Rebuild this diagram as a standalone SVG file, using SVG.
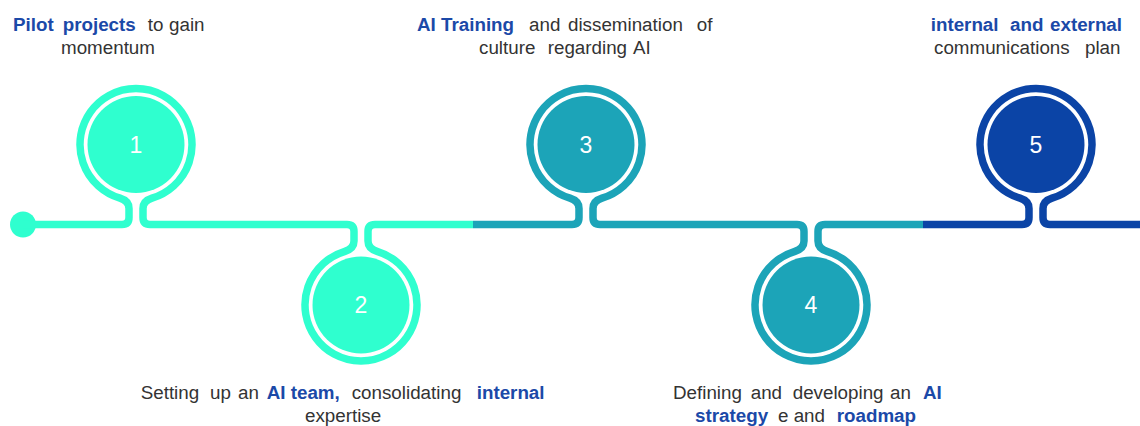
<svg xmlns="http://www.w3.org/2000/svg" width="1140" height="426" viewBox="0 0 1140 426">
<style>
.t{font-family:"Liberation Sans",Arial,sans-serif;font-size:18.8px;fill:#333333}
.b{font-weight:bold;fill:#1B49A8}
.n{font-family:"Liberation Sans",Arial,sans-serif;font-size:23px;fill:#ffffff;text-anchor:middle}
.ln{fill:none;stroke-width:7.5;stroke-linejoin:round}
.aq{fill:#2FFFCF}
.te{fill:#1CA4B8}
.bl{fill:#0B44A6}
</style>
<rect width="1140" height="426" fill="#ffffff"/>
<g id="connectors">
<circle cx="23" cy="224.5" r="13" class="aq"/>
<path class="ln" stroke="#2FFFCF" d="M23,224.5 H122 Q129,224.5 129,217.5 V208.5 Q129,201 120,198.2 A56,56 0 1 1 152,198.2 Q143,201 143,208.5 V217.5 Q143,224.5 150,224.5 H347 Q354,224.5 354,231.5 V241 Q354,248.5 345,251.3 A56,56 0 1 0 377,251.3 Q368,248.5 368,241 V231.5 Q368,224.5 375,224.5 H473"/>
<path class="ln" stroke="#1CA4B8" d="M473,224.5 H572 Q579,224.5 579,217.5 V208.5 Q579,201 570,198.2 A56,56 0 1 1 602,198.2 Q593,201 593,208.5 V217.5 Q593,224.5 600,224.5 H797 Q804,224.5 804,231.5 V241 Q804,248.5 795,251.3 A56,56 0 1 0 827,251.3 Q818,248.5 818,241 V231.5 Q818,224.5 825,224.5 H923"/>
<path class="ln" stroke="#0B44A6" d="M923,224.5 H1022 Q1029,224.5 1029,217.5 V208.5 Q1029,201 1020,198.2 A56,56 0 1 1 1052,198.2 Q1043,201 1043,208.5 V217.5 Q1043,224.5 1050,224.5 H1140"/>
</g>
<g id="node1">
<circle cx="136" cy="144.5" r="48.5" class="aq"/>
<text class="n" x="136" y="153">1</text>
<text class="t" y="30.5"><tspan class="b" x="13">Pilot</tspan><tspan class="b" x="62.7">projects</tspan><tspan x="147.7">to</tspan><tspan x="169">gain</tspan></text>
<text class="t" y="53.5"><tspan x="61">momentum</tspan></text>
</g>
<g id="node2">
<circle cx="361" cy="305" r="48.5" class="aq"/>
<text class="n" x="361" y="313.3">2</text>
<text class="t" y="399"><tspan x="140.7">Setting</tspan><tspan x="210">up</tspan><tspan x="238">an</tspan><tspan class="b" x="266.7">AI team,</tspan><tspan x="351.7">consolidating</tspan><tspan class="b" x="476.7">internal</tspan></text>
<text class="t" y="422"><tspan x="305">expertise</tspan></text>
</g>
<g id="node3">
<circle cx="586" cy="144.5" r="48.5" class="te"/>
<text class="n" x="586" y="153">3</text>
<text class="t" y="30.5"><tspan class="b" x="417">AI Training</tspan><tspan x="529">and</tspan><tspan x="568">dissemination</tspan><tspan x="696.7">of</tspan></text>
<text class="t" y="53.5"><tspan x="479">culture</tspan><tspan x="547.7">regarding</tspan><tspan x="633">AI</tspan></text>
</g>
<g id="node4">
<circle cx="811" cy="305" r="48.5" class="te"/>
<text class="n" x="811" y="313.3">4</text>
<text class="t" y="398.5"><tspan x="673">Defining</tspan><tspan x="750.7">and</tspan><tspan x="792.7">developing</tspan><tspan x="890">an</tspan><tspan class="b" x="923">AI</tspan></text>
<text class="t" y="421.5"><tspan class="b" x="695">strategy</tspan><tspan x="778">e and</tspan><tspan class="b" x="836.7">roadmap</tspan></text>
</g>
<g id="node5">
<circle cx="1036" cy="144.5" r="48.5" class="bl"/>
<text class="n" x="1036" y="153">5</text>
<text class="t b" y="30.5"><tspan x="930.7">internal</tspan><tspan x="1010">and</tspan><tspan x="1050">external</tspan></text>
<text class="t" y="53.5"><tspan x="934">communications</tspan><tspan x="1085">plan</tspan></text>
</g>
</svg>
